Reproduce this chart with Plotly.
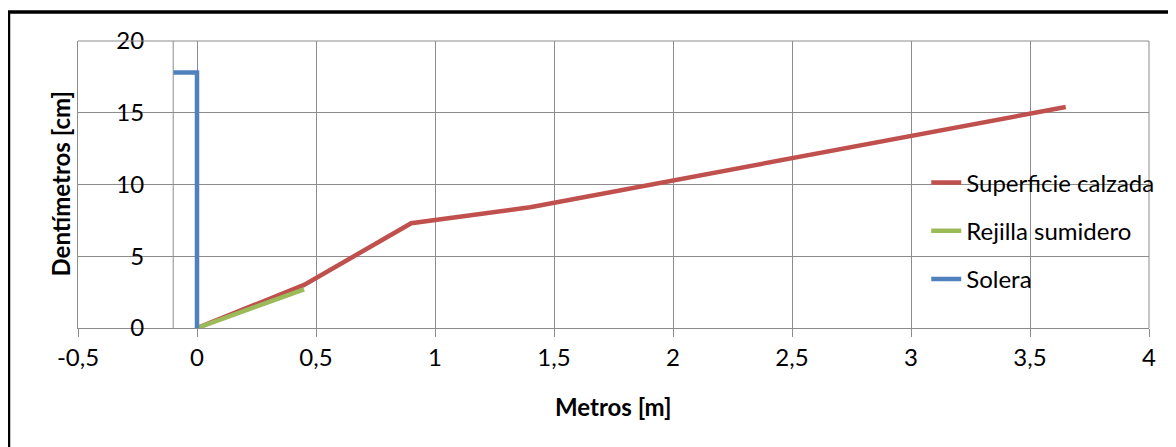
import plotly.graph_objects as go

# Data
superficie_x = [0, 0.45, 0.9, 1.4, 3.65]
superficie_y = [0, 3.0, 7.3, 8.42, 15.4]
rejilla_x = [0, 0.45]
rejilla_y = [0, 2.7]
solera_x = [-0.1, 0, 0]
solera_y = [17.8, 17.8, 0]

series_names = ["Superficie calzada", "Rejilla sumidero", "Solera"]
series_colors = ["#C0504D", "#9BBB59", "#4F81BD"]

x_ticks = [-0.5, 0, 0.5, 1, 1.5, 2, 2.5, 3, 3.5, 4]
x_tick_labels = ["-0,5", "0", "0,5", "1", "1,5", "2", "2,5", "3", "3,5", "4"]
y_ticks = [0, 5, 10, 15, 20]
y_tick_labels = ["0", "5", "10", "15", "20"]
y_axis_cross = -0.1
x_title = "Metros [m]"
y_title = "Dentímetros [cm]"

FONT = "Lato, Carlito, Calibri, sans-serif"
FS = 24
GRID = "#8C8C8C"

fig = go.Figure()
for (xs, ys), name, color in zip(
    [(superficie_x, superficie_y), (rejilla_x, rejilla_y), (solera_x, solera_y)],
    series_names, series_colors):
    fig.add_trace(go.Scatter(x=xs, y=ys, mode="lines", name=name, legendgroup=name,
                             line=dict(color=color, width=4.5)))

fig.update_layout(
    width=1168, height=439,
    margin=dict(l=70, r=27, t=33, b=119, autoexpand=False),
    paper_bgcolor="white", plot_bgcolor="white",
    font=dict(family=FONT, size=FS, color="black"),
    showlegend=True,
    legend=dict(x=0.792, y=0.338, xanchor="left", yanchor="middle",
                bgcolor="rgba(0,0,0,0)", font=dict(size=FS, family=FONT),
                tracegroupgap=14, traceorder="grouped", itemwidth=30),
    xaxis=dict(range=[-0.5, 4], tickvals=x_ticks, ticktext=x_tick_labels,
               showgrid=True, gridcolor=GRID, gridwidth=1,
               showline=True, linecolor=GRID, linewidth=1, mirror=False,
               ticks="outside", ticklen=8, tickcolor=GRID,
               zeroline=False, automargin=False),
    yaxis=dict(range=[0, 20], tickvals=y_ticks, ticktext=y_tick_labels,
               showgrid=True, gridcolor=GRID, gridwidth=1,
               showline=True, linecolor=GRID, linewidth=1,
               ticks="", zeroline=False, automargin=False,
               ticklabelstandoff=-72),
    annotations=[
        dict(text=f"<b>{x_title}</b>", xref="paper", yref="paper", x=0.5, y=-0.275,
             xanchor="center", yanchor="middle", showarrow=False,
             font=dict(size=FS, family=FONT)),
        dict(text=f"<b>{y_title}</b>", xref="paper", yref="paper", x=-0.0168, y=0.5,
             xanchor="center", yanchor="middle", textangle=-90, showarrow=False,
             font=dict(size=FS, family=FONT)),
    ],
    shapes=[
        dict(type="line", xref="x", yref="y domain", x0=y_axis_cross, x1=y_axis_cross,
             y0=0, y1=1, line=dict(color=GRID, width=1)),
        dict(type="line", xref="paper", yref="paper", x0=1, x1=1, y0=0, y1=1,
             line=dict(color=GRID, width=1)),
        dict(type="line", xref="paper", yref="paper", x0=0, x1=1, y0=1, y1=1,
             line=dict(color=GRID, width=1)),
        dict(type="rect", xref="paper", yref="paper",
             x0=-0.0649, x1=1.06, y0=-0.45, y1=1.101,
             line=dict(color="black", width=3.5), fillcolor="rgba(0,0,0,0)", layer="above"),
    ],
)

fig.write_html("out.html")
